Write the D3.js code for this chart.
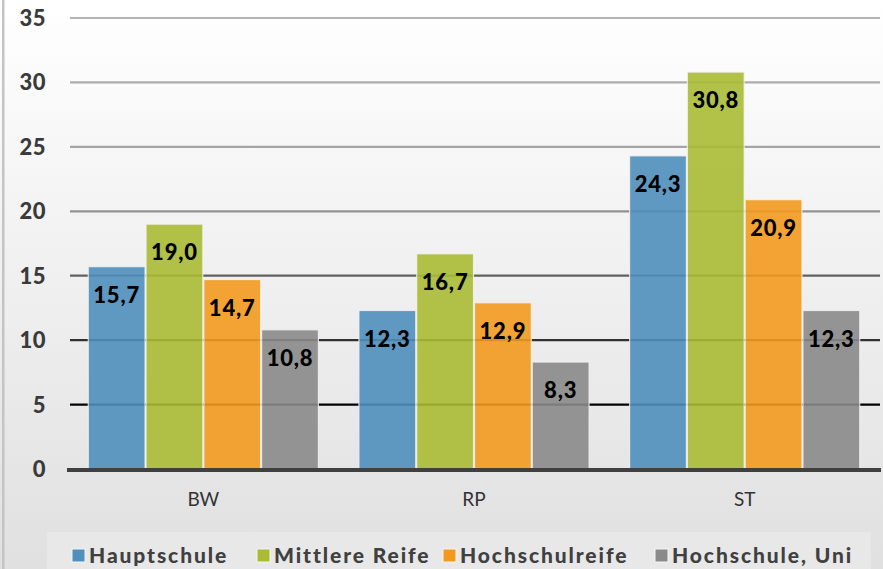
<!DOCTYPE html>
<html>
<head>
<meta charset="utf-8">
<script src="https://cdn.jsdelivr.net/npm/d3@7"></script>
<style>
  html, body { margin: 0; padding: 0; overflow: hidden; }
  body { width: 883px; height: 569px; }
  text { font-family: Lato, "Open Sans", sans-serif; }
</style>
</head>
<body>
<script>
// data
var regions = ["BW", "RP", "ST"]
var seriesNames = ["Hauptschule", "Mittlere Reife", "Hochschulreife", "Hochschule, Uni"]
var hauptschule = [15.7, 12.3, 24.3]
var mittlereReife = [19.0, 16.7, 30.8]
var hochschulreife = [14.7, 12.9, 20.9]
var hochschuleUni = [10.8, 8.3, 12.3]
var yTicks = [0, 5, 10, 15, 20, 25, 30, 35]

var colors = ["#4f8fbb", "#aabb35", "#f39a1e", "#8a8a8a"]
var values = [hauptschule, mittlereReife, hochschulreife, hochschuleUni]

var w = 883, h = 569

var svg = d3.select("body").append("svg")
    .attr("width", w).attr("height", h)

var defs = svg.append("defs")
var bg = defs.append("linearGradient").attr("id", "bg")
    .attr("x1", 0).attr("y1", 0).attr("x2", 0).attr("y2", 1)
bg.append("stop").attr("offset", "0%").attr("stop-color", "#ffffff")
bg.append("stop").attr("offset", "100%").attr("stop-color", "#e0e0e0")

// gridlines fade from grey at top to black near the bottom
var gg = defs.append("linearGradient").attr("id", "grid")
    .attr("gradientUnits", "userSpaceOnUse")
    .attr("x1", 0).attr("y1", 18).attr("x2", 0).attr("y2", 405)
gg.append("stop").attr("offset", "0%").attr("stop-color", "#b4b4b4")
gg.append("stop").attr("offset", "45%").attr("stop-color", "#a0a0a0")
gg.append("stop").attr("offset", "100%").attr("stop-color", "#000000")

svg.append("rect").attr("width", w).attr("height", h).attr("fill", "url(#bg)")
svg.append("rect").attr("x", 2).attr("y", 0).attr("width", 2.5).attr("height", h)
    .attr("fill", "#c4c4c4")

var x0 = d3.scaleBand().domain(regions).range([68, 880])
    .paddingInner(0.146).paddingOuter(0.073)
var x1 = d3.scaleBand().domain(d3.range(4)).range([0, x0.bandwidth()])
var y = d3.scaleLinear().domain([0, 35]).range([469, 18])

// gridlines
svg.append("g").selectAll("line")
    .data(yTicks.filter(function(d) { return d > 0 }))
  .enter().append("line")
    .attr("x1", 70).attr("x2", 880)
    .attr("y1", function(d) { return y(d) }).attr("y2", function(d) { return y(d) })
    .attr("stroke", "url(#grid)").attr("stroke-width", 2.2)

// y tick labels
svg.append("g").selectAll("text")
    .data(yTicks)
  .enter().append("text")
    .attr("x", 46).attr("y", function(d) { return y(d) + 8 })
    .attr("text-anchor", "end")
    .style("font-size", "22px").style("font-weight", "900")
    .style("letter-spacing", "0.5px")
    .attr("fill", "#3a3a3a")
    .text(function(d) { return d })

// bars
var groups = svg.append("g").selectAll("g")
    .data(regions)
  .enter().append("g")
    .attr("transform", function(d) { return "translate(" + x0(d) + ",0)" })

groups.selectAll("rect")
    .data(function(d, i) { return values.map(function(s, k) { return {k: k, v: s[i]} }) })
  .enter().append("rect")
    .attr("x", function(d) { return x1(d.k) + 0.5 })
    .attr("width", x1.bandwidth() - 1)
    .attr("y", function(d) { return y(d.v) })
    .attr("height", function(d) { return y(0) - y(d.v) })
    .attr("fill", function(d) { return colors[d.k] })
    .attr("fill-opacity", 0.9)
    .attr("stroke", "#f4f4f4").attr("stroke-opacity", 0.8).attr("stroke-width", 1.2)

groups.selectAll("text")
    .data(function(d, i) { return values.map(function(s, k) { return {k: k, v: s[i]} }) })
  .enter().append("text")
    .attr("x", function(d) { return x1(d.k) + x1.bandwidth() / 2 })
    .attr("y", function(d) { return y(d.v) + 36 })
    .attr("text-anchor", "middle")
    .style("font-size", "22px").style("font-weight", "900")
    .style("letter-spacing", "0.8px")
    .attr("fill", "#000")
    .text(function(d) { return d.v.toFixed(1).replace(".", ",") })

// zero axis
svg.append("line").attr("x1", 67).attr("x2", 881)
    .attr("y1", y(0) + 1).attr("y2", y(0) + 1)
    .attr("stroke", "#404040").attr("stroke-width", 4)

// category labels
svg.append("g").selectAll("text")
    .data(regions)
  .enter().append("text")
    .attr("x", function(d) { return x0(d) + x0.bandwidth() / 2 })
    .attr("y", 506)
    .attr("text-anchor", "middle")
    .style("font-size", "19px")
    .attr("fill", "#333")
    .text(function(d) { return d })

// legend
svg.append("rect").attr("x", 47).attr("y", 532).attr("width", 824).attr("height", 40)
    .attr("fill", "#e8e8e8")
var legendX = [72, 257, 443, 655]
var legend = svg.append("g").selectAll("g")
    .data(seriesNames)
  .enter().append("g")
    .attr("transform", function(d, i) { return "translate(" + legendX[i] + ",549)" })
legend.append("rect").attr("width", 13).attr("height", 13)
    .attr("fill", function(d, i) { return colors[i] })
    .attr("stroke", "#f4f4f4").attr("stroke-width", 1)
legend.append("text").attr("x", 17).attr("y", 13.5)
    .style("font-size", "21px").style("font-weight", "900")
    .style("letter-spacing", "1.9px")
    .attr("fill", "#404040")
    .text(function(d) { return d })
</script>
</body>
</html>
